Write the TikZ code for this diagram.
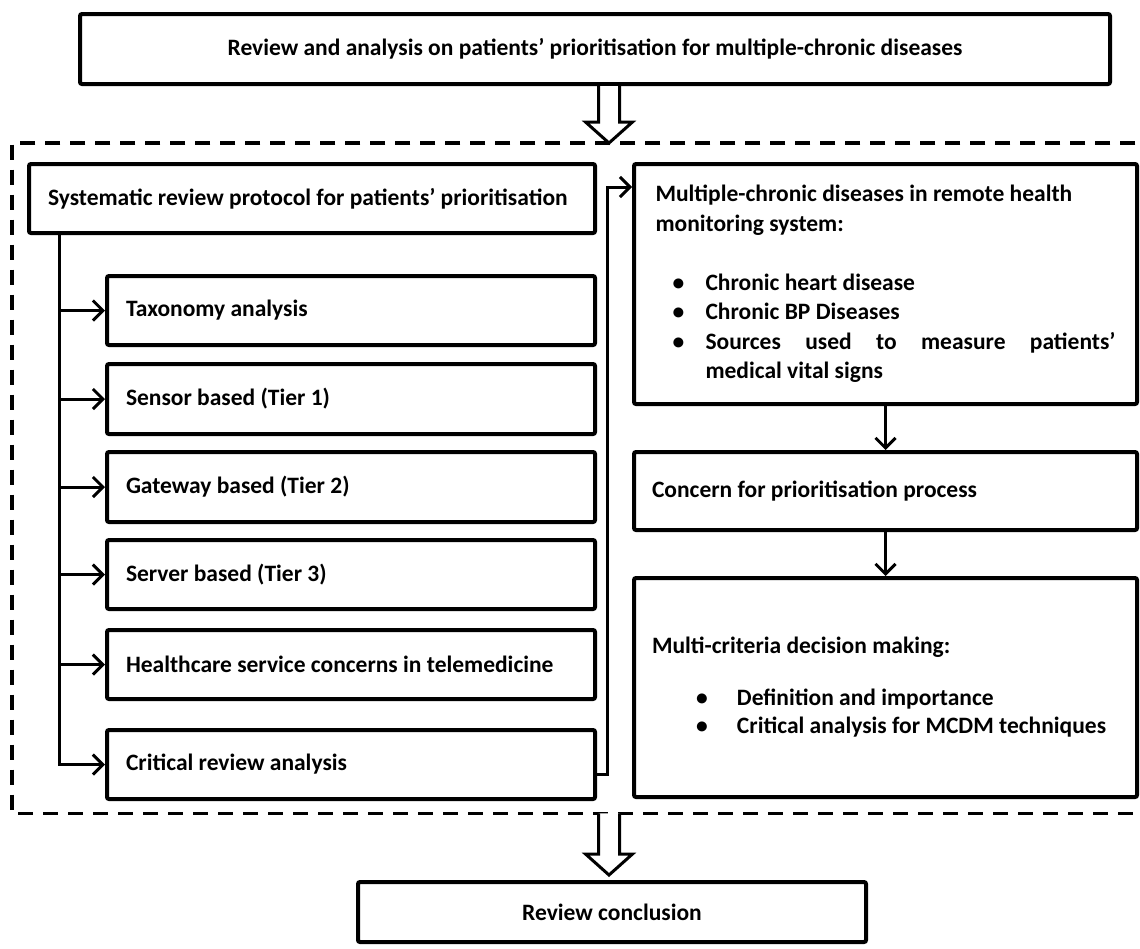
\documentclass[tikz,border=0pt]{standalone}
\usepackage{fontspec}
\setmainfont{Carlito}
\usetikzlibrary{arrows.meta,calc}
\setlength{\parindent}{0pt}

\tikzset{
    every node/.style={font=\bfseries\fontsize{23.5}{29.5}\selectfont},
    box/.style={draw, line width=4pt, rounded corners=2pt, anchor=north west,
        inner xsep=19pt, inner ysep=0pt, align=flush left},
    rbox/.style={box, inner xsep=18pt, minimum width=503pt},
    frame/.style={anchor=north west, inner sep=0pt},
    dashline/.style={line width=3.5pt, dash pattern=on 15pt off 10pt},
    conn/.style={line width=3pt},
    arr/.style={conn, -{Straight Barb[length=10pt,width=20pt]}},
    hollow/.style={draw, line width=3pt, fill=white, line join=miter},
}

% bullet line with hanging indent
\newcommand{\bul}[2]{\par\noindent\hangindent=#1\hangafter=1\makebox[#1][l]{\hspace{#2}\textbullet}}
% wide hollow arrow between two points
\newcommand{\blockarrow}[2]{%
    \draw[hollow] ($(#1)+(-10.5,0)$) -- ($(#2)+(-10.5,-21)$) -- ($(#2)+(-23.5,-21)$) -- (#2)
        -- ($(#2)+(23.5,-21)$) -- ($(#2)+(10.5,-21)$) -- ($(#1)+(10.5,0)$);}

\begin{document}
\begin{tikzpicture}[x=1pt,y=-1pt]
    \useasboundingbox (0,0) rectangle (1140,948);
    \node[frame, minimum width=1123pt, minimum height=670pt] (frame) at (12,143) {};
    \draw[dashline] (frame.north east) -- (frame.north west) -- (frame.south west) -- (frame.south east);

    \node[box, align=flush center, text width=992pt, minimum height=70pt] (top) at (78,12)
        {Review and analysis on patients’ prioritisation for multiple-chronic diseases};

    % left column
    \node[box, text width=528pt, minimum height=69pt] (sys) at (27,162)
        {Systematic review protocol for patients’ prioritisation};
    \node[box, text width=450pt, minimum height=69pt] (tax) at (105,274) {Taxonomy analysis};
    \node[box, text width=450pt, minimum height=70pt] (sen) at (105,362) {Sensor based (Tier 1)};
    \node[box, text width=450pt, minimum height=70pt] (gat) at (105,450) {Gateway based (Tier 2)};
    \node[box, text width=450pt, minimum height=69pt] (ser) at (105,538) {Server based (Tier 3)};
    \node[box, text width=450pt, minimum height=69pt] (hea) at (105,628)
        {Healthcare service concerns in telemedicine};
    \node[box, text width=450pt, minimum height=69pt] (crit) at (105,728) {Critical review analysis};

    % right column
    \node[rbox, align=justify, text width=460pt, minimum height=240pt] (multi) at (632,162)
        {Multiple-chronic diseases in remote health\\monitoring system:\par\mbox{}
        \bul{50pt}{17pt}Chronic heart disease
        \bul{50pt}{17pt}Chronic BP Diseases
        \bul{50pt}{17pt}Sources used to measure patients’\linebreak medical vital signs\par};
    \node[rbox, text width=467pt, minimum height=78pt] (conc) at (632,450)
        {Concern for prioritisation process};
    \node[rbox, text width=467pt, minimum height=219pt,
        font=\bfseries\fontsize{23.5}{28}\selectfont] (mcdm) at (632,576)
        {Multi-criteria decision making:\par\vspace{24pt}
        \bul{85pt}{44pt}Definition and importance
        \bul{85pt}{44pt}Critical analysis for MCDM techniques\par};

    \node[box, align=flush center, text width=470pt, minimum height=60pt] (concl) at (356,880)
        {Review conclusion};

    % connectors
    \coordinate (tk) at ($(sys.south west)+(32,0)$);
    \foreach \n in {tax,sen,gat,ser,hea} {
        \draw[arr] (tk |- \n.west) -- (\n.west);
    }
    \draw[arr] (tk) |- (crit.west);
    \draw[arr] ($(crit.east)+(0,10)$) -- ++(10,0) |- ($(multi.north west)+(0,25)$);
    \draw[arr] (multi.south) -- (conc.north);
    \draw[arr] (conc.south) -- (mcdm.north);

    % hollow arrows
    \coordinate (mid) at (609,0);
    \coordinate (a1) at (mid |- top.south);
    \coordinate (b1) at (mid |- frame.north);
    \coordinate (a2) at (mid |- frame.south);
    \coordinate (b2) at ($(mid |- concl.north)+(0,-5)$);
    \blockarrow{a1}{b1}
    \blockarrow{a2}{b2}
\end{tikzpicture}
\end{document}
